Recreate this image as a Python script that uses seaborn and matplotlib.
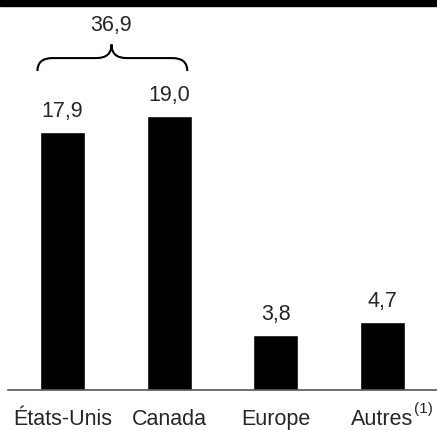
import matplotlib
matplotlib.use("Agg")
import matplotlib.pyplot as plt
import matplotlib.patches as mpatches
from matplotlib.path import Path
import numpy as np
import pandas as pd
import seaborn as sns

# Data
regions = ["États-Unis", "Canada", "Europe", "Autres"]
values = [17.9, 19.0, 3.8, 4.7]
value_labels = ["17,9", "19,0", "3,8", "4,7"]
total_label = "36,9"
footnote = "(1)"

sns.set_style("white")
plt.rcParams["font.family"] = ["Liberation Sans", "DejaVu Sans"]

df = pd.DataFrame({"region": regions, "value": values})

fig = plt.figure(figsize=(4.37, 4.31), dpi=100)
ax = fig.add_axes([8 / 437, 40 / 431, 429 / 437, 391 / 431])

sns.barplot(data=df, x="region", y="value", color="black", saturation=1,
            width=0.42, ax=ax)

ax.set_xlim(-0.51, 3.51)
ax.set_ylim(0, 391 / 14.4)

fs = 15.5

# value labels above bars
for i, (v, lab) in enumerate(zip(values, value_labels)):
    ax.annotate(lab, (i, v), xytext=(0, 8), textcoords="offset points",
                ha="center", va="bottom", fontsize=fs)

# brace over the first two bars
x0, x1 = -0.234, 1.17
xm = 0.46
yb, ym, yt = 22.15, 23.05, 24.0
dx = 0.14
verts = [
    (x0, yb), (x0, ym), (x0 + dx, ym),
    (xm - dx, ym),
    (xm, ym), (xm, yt),
    (xm, ym), (xm + dx, ym),
    (x1 - dx, ym),
    (x1, ym), (x1, yb),
]
codes = [Path.MOVETO, Path.CURVE3, Path.CURVE3,
         Path.LINETO,
         Path.CURVE3, Path.CURVE3,
         Path.CURVE3, Path.CURVE3,
         Path.LINETO,
         Path.CURVE3, Path.CURVE3]
ax.add_patch(mpatches.PathPatch(Path(verts, codes), fill=False, lw=1.5,
                                color="black", clip_on=False))
ax.text(xm, 25.35, total_label, ha="center", va="center", fontsize=fs)

ax.set_xticks(range(len(regions)))
ax.set_xticklabels(regions, fontsize=fs)
ax.tick_params(axis="x", length=0, pad=13)
ax.set_yticks([])
ax.set_xlabel("")
ax.set_ylabel("")
sns.despine(ax=ax, left=True, top=True, right=True)
ax.spines["bottom"].set_color("#555555")
ax.spines["bottom"].set_linewidth(1.2)

# superscript footnote marker after "Autres"
last_label = ax.get_xticklabels()[-1]
ax.annotate(footnote, xy=(1, 1), xycoords=last_label, xytext=(0, 5),
            textcoords="offset points", ha="left", va="top", fontsize=11)

# black band at the top of the figure
fig.patches.append(mpatches.Rectangle((0, 1 - 7 / 431), 1, 7 / 431,
                                      transform=fig.transFigure,
                                      color="black", zorder=10))

fig.savefig("out.png", dpi=100)
